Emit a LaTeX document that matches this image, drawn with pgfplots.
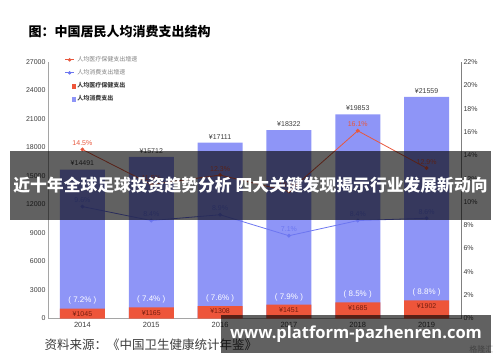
\documentclass[border=0pt]{standalone}
\usepackage{pgfplots}
\pgfplotsset{compat=1.18}
\usepackage{pgfplotstable}
\usepackage{fontspec}
\setmainfont{Liberation Sans}
\newfontfamily\cjk{Noto Sans CJK SC}
\newfontfamily\song{Noto Sans CJK SC}
\newfontfamily\wm{Open Sans}

\definecolor{barblue}{RGB}{142,149,247}
\definecolor{barred}{RGB}{238,85,58}
\definecolor{linered}{RGB}{232,88,62}
\definecolor{lineblue}{RGB}{108,118,240}
\definecolor{axgray}{RGB}{165,165,165}
\definecolor{txtgray}{RGB}{60,60,60}
\definecolor{darkred}{RGB}{120,30,15}

\pgfplotstableread{
x year total med ratio
0 2014 14491 1045 7.2
1 2015 15712 1165 7.4
2 2016 17111 1308 7.6
3 2017 18322 1451 7.9
4 2018 19853 1685 8.5
5 2019 21559 1902 8.8
}\bars

\pgfplotstableread{
x medg consg
0 14.5 9.6
1 11.5 8.4
2 12.3 8.9
3 10.9 7.1
4 16.1 8.4
5 12.9 8.6
}\growth

\pgfplotsset{base/.style={
  at={(48pt,43.5pt)}, anchor=south west, scale only axis,
  width=413pt, height=256.5pt,
  xmin=-0.5, xmax=5.5, clip=false,
  tick style={draw=none},
  scaled y ticks=false,
  /pgf/number format/assume math mode=true,
  /pgf/number format/1000 sep={},
}}

\begin{document}
\begin{tikzpicture}
\path[use as bounding box] (0,0) rectangle (500pt,362pt);

% title
\node[anchor=west, font=\song\bfseries\fontsize{13}{15}\selectfont] at (25pt,330pt) {图：中国居民人均消费支出结构};

% blue bars (own scale, as drawn in the reference)
\begin{axis}[base, ymin=0, ymax=24950, hide axis]
\addplot[ybar, bar width=45pt, bar shift=0pt, fill=barblue, draw=none,
  nodes near coords={¥\pgfmathprintnumber{\pgfplotspointmeta}},
  every node near coord/.append style={font=\fontsize{7}{8}\selectfont, text=txtgray}]
  table[x=x, y=total]{\bars};
\end{axis}

\begin{axis}[base, ymin=0, ymax=27000,
  xtick={0,1,2,3,4,5}, xticklabels={2014,2015,2016,2017,2018,2019},
  ytick={0,3000,...,27000},
  axis x line*=bottom, axis y line*=left,
  axis line style={axgray, line width=0.9pt, -},
  y tick label style={font=\fontsize{7}{8}\selectfont, text=txtgray, xshift=1pt},
  x tick label style={font=\fontsize{7.5}{8}\selectfont, text=txtgray},
]
\addplot[ybar, bar width=45pt, bar shift=0pt, fill=barred, draw=none,
  nodes near coords={¥\pgfmathprintnumber{\pgfplotspointmeta}},
  every node near coord/.append style={anchor=north, font=\fontsize{7}{8}\selectfont, text=darkred, yshift=0.5pt}]
  table[x=x, y=med]{\bars};
\addplot[draw=none, mark=none, point meta=explicit symbolic,
  nodes near coords={(\ \pgfplotspointmeta\%\ )},
  every node near coord/.append style={anchor=south, font=\fontsize{8}{9}\selectfont, text=white, yshift=0.5pt}]
  table[x=x, y=med, meta=ratio]{\bars};
\end{axis}

\begin{axis}[base, ymin=0, ymax=22,
  ytick={0,2,...,22},
  yticklabel={\pgfmathprintnumber{\tick}\%},
  axis y line*=right, axis x line=none,
  axis line style={gray, line width=0.9pt, -},
  y tick label style={font=\fontsize{7}{8}\selectfont, text=txtgray, xshift=-1pt},
  legend style={at={(0.04,1.03)}, anchor=north west, draw=none, fill=none,
    inner sep=0pt, row sep=2.5pt,
    font=\cjk\fontsize{6}{7}\selectfont},
  legend cell align=left,
]
\addplot[forget plot, linered, line width=0.8pt, mark=*, mark size=1.5pt,
  nodes near coords={\pgfmathprintnumber[fixed,precision=1,fixed zerofill]{\pgfplotspointmeta}\%},
  every node near coord/.append style={font=\fontsize{7}{8}\selectfont, text=linered}]
  table[x=x, y=medg]{\growth};
\addplot[forget plot, lineblue, line width=0.8pt, mark=*, mark size=1.5pt,
  nodes near coords={\pgfmathprintnumber[fixed,precision=1,fixed zerofill]{\pgfplotspointmeta}\%},
  every node near coord/.append style={font=\fontsize{7}{8}\selectfont, text=lineblue}]
  table[x=x, y=consg]{\growth};
\addlegendimage{linered, line width=0.8pt, mark=*, mark size=1.3pt,
  legend image code/.code={\draw[mark repeat=2,mark phase=2] plot coordinates {(0pt,0pt) (4.5pt,0pt) (9pt,0pt)};}}
\addlegendentry{\textcolor{gray}{人均医疗保健支出增速}}
\addlegendimage{lineblue, line width=0.8pt, mark=*, mark size=1.3pt,
  legend image code/.code={\draw[mark repeat=2,mark phase=2] plot coordinates {(0pt,0pt) (4.5pt,0pt) (9pt,0pt)};}}
\addlegendentry{\textcolor{gray}{人均消费支出增速}}
\addlegendimage{only marks, mark=square*, mark size=1.8pt, barred}
\addlegendentry{\textcolor{txtgray}{\bfseries 人均医疗保健支出}}
\addlegendimage{only marks, mark=square*, mark size=1.8pt, barblue}
\addlegendentry{\textcolor{txtgray}{\bfseries 人均消费支出}}
\end{axis}

% source
\node[anchor=west, font=\song\fontsize{12.5}{14}\selectfont, text=txtgray] at (41pt,17pt) {资料来源：《中国卫生健康统计年鉴》};
\node[anchor=east, font=\cjk\fontsize{8}{9}\selectfont, text=gray!60] at (497pt,13pt) {格隆汇};

% overlay band
\fill[black, opacity=0.62] (10pt,142pt) rectangle (491pt,211pt);
\node[text=white, font=\cjk\bfseries\fontsize{16.8}{18}\selectfont, inner sep=0pt] at (250.5pt,176.5pt) {近十年全球足球投资趋势分析 四大关键发现揭示行业发展新动向};

% watermark
\fill[black, opacity=0.62] (221pt,9pt) rectangle (491pt,47pt);
\node[text=white, font=\wm\bfseries\fontsize{16.5}{19}\selectfont, inner sep=0pt] at (356pt,28pt) {www.platform-pazhenren.com};
\end{tikzpicture}
\end{document}
